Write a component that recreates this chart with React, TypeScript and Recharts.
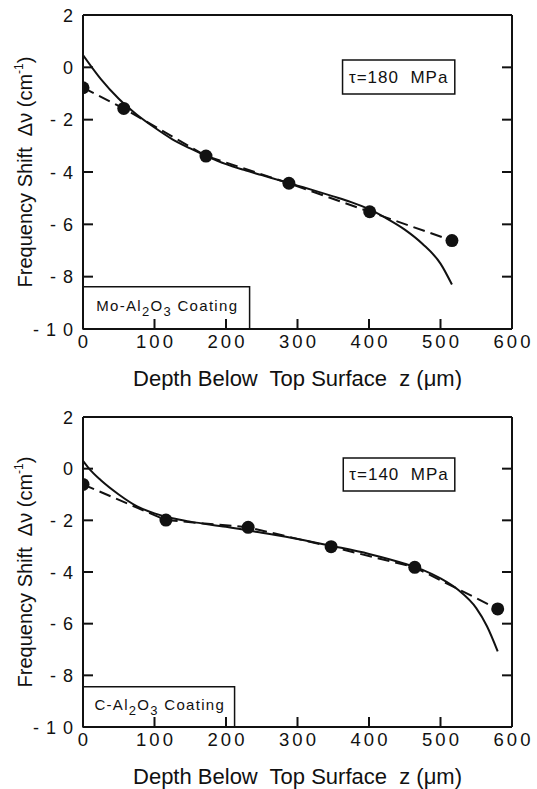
import React from "react";
import { LineChart, Line, XAxis, YAxis, ReferenceArea } from "recharts";

const xTicks = [0, 100, 200, 300, 400, 500, 600];
const yTicks = [-10, -8, -6, -4, -2, 0, 2];
const xInnerTicks = [100, 200, 300, 400, 500];
const yInnerTicks = [-8, -6, -4, -2, 0];

// Mo-Al2O3 coating, tau = 180 MPa
const moDepth = [0, 57, 172, 288, 401, 516];
const moShift = [-0.78, -1.57, -3.39, -4.43, -5.52, -6.62];
const moFitDepth = [0, 25, 50, 75, 100, 125, 150, 175, 200, 225, 250, 275, 300, 325, 350, 375, 400, 425, 450, 475, 500, 516];
const moFitShift = [0.47, -0.45, -1.2, -1.8, -2.3, -2.75, -3.1, -3.42, -3.7, -3.92, -4.12, -4.32, -4.52, -4.72, -4.93, -5.15, -5.42, -5.78, -6.2, -6.75, -7.5, -8.3];

// C-Al2O3 coating, tau = 140 MPa
const cDepth = [0, 116, 231, 347, 464, 580];
const cShift = [-0.61, -1.99, -2.27, -3.02, -3.82, -5.43];
const cFitDepth = [0, 10, 25, 50, 75, 100, 125, 150, 200, 250, 300, 350, 400, 450, 475, 500, 525, 550, 565, 580];
const cFitShift = [0.3, -0.05, -0.45, -1.0, -1.45, -1.73, -1.92, -2.05, -2.25, -2.48, -2.72, -3.0, -3.3, -3.68, -3.92, -4.25, -4.7, -5.4, -6.1, -7.07];

const INK = "#111";
const FONT = "'Liberation Sans', Arial, Helvetica, sans-serif";
const TICK = 10;

const toPts = (xs: number[], ys: number[]) => xs.map((x, i) => ({ x, y: ys[i] }));

const fmtY = (v: number) => (v < 0 ? "- " + String(-v).split("").join(" ") : String(v));

const BottomTick = (props: any) => {
  const { x, y, payload } = props;
  const v = payload.value;
  return (
    <g>
      {v > 0 && v < 600 && <line x1={x} y1={y} x2={x} y2={y - TICK} stroke={INK} strokeWidth={2} />}
      <text x={x + 1.5} y={y + 19} textAnchor="middle" fontSize={18.5} letterSpacing={3} fontFamily={FONT} fill={INK}>
        {v}
      </text>
    </g>
  );
};

const LeftTick = (props: any) => {
  const { x, y, payload } = props;
  const v = payload.value;
  return (
    <g>
      {v > -10 && v < 2 && <line x1={x} y1={y} x2={x + TICK} y2={y} stroke={INK} strokeWidth={2} />}
      <text x={x - 9} y={y + 6.5} textAnchor="end" fontSize={18} letterSpacing={1} fontFamily={FONT} fill={INK} style={{ whiteSpace: "pre" }}>
        {fmtY(v)}
      </text>
    </g>
  );
};

const TopTick = (props: any) => {
  const { x, y } = props;
  return <line x1={x} y1={y} x2={x} y2={y + TICK} stroke={INK} strokeWidth={2} />;
};

const RightTick = (props: any) => {
  const { x, y } = props;
  return <line x1={x} y1={y} x2={x - TICK} y2={y} stroke={INK} strokeWidth={2} />;
};

const XTitle = (props: any) => {
  const vb = props.viewBox || {};
  return (
    <text x={vb.x + vb.width / 2} y={vb.y + 57} textAnchor="middle" fontSize={22} fontFamily={FONT} fill={INK} style={{ whiteSpace: "pre" }}>
      {"Depth Below  Top Surface  z (\u03bcm)"}
    </text>
  );
};

const YTitle = (props: any) => {
  const vb = props.viewBox || {};
  const cx = vb.x + vb.width - 51;
  const cy = vb.y + vb.height / 2;
  return (
    <text x={cx} y={cy} textAnchor="middle" fontSize={20} fontFamily={FONT} fill={INK} transform={`rotate(-90, ${cx}, ${cy})`} style={{ whiteSpace: "pre" }}>
      {"Frequency Shift  \u0394\u03bd (cm"}
      <tspan fontSize={12} dy={-9}>-1</tspan>
      <tspan dy={9}>)</tspan>
    </text>
  );
};

const TauText = (text: string) => (props: any) => {
  const vb = props.viewBox || {};
  return (
    <text x={vb.x + vb.width / 2} y={vb.y + vb.height / 2 + 6} textAnchor="middle" fontSize={17} letterSpacing={1} fontFamily={FONT} fill={INK} style={{ whiteSpace: "pre" }}>
      {text}
    </text>
  );
};

const CoatingText = (prefix: string) => (props: any) => {
  const vb = props.viewBox || {};
  return (
    <text x={vb.x + vb.width / 2 + 1} y={vb.y + vb.height / 2 + 3} textAnchor="middle" fontSize={15} letterSpacing={1.3} fontFamily={FONT} fill={INK}>
      {prefix + "-Al"}
      <tspan fontSize={13} dy={5}>2</tspan>
      <tspan dy={-5}>O</tspan>
      <tspan fontSize={13} dy={5}>3</tspan>
      <tspan dy={-5}>{" Coating"}</tspan>
    </text>
  );
};

interface PanelProps {
  height: number;
  top: number;
  bottom: number;
  points: { x: number; y: number }[];
  fit: { x: number; y: number }[];
  tau: string;
  tauBox: number[];
  coating: string;
  coatingBox: number[];
}

function Panel({ height, top, bottom, points, fit, tau, tauBox, coating, coatingBox }: PanelProps) {
  return (
    <LineChart width={537} height={height} margin={{ top: top - 1, right: 24, bottom: bottom - 1, left: 82 }}>
      <XAxis
        dataKey="x"
        type="number"
        domain={[0, 600]}
        ticks={xTicks}
        allowDataOverflow
        height={1}
        tickSize={0}
        tickMargin={0}
        tickLine={false}
        axisLine={{ stroke: INK, strokeWidth: 2 }}
        tick={<BottomTick />}
        interval={0}
        label={XTitle}
      />
      <XAxis
        xAxisId="top"
        orientation="top"
        type="number"
        domain={[0, 600]}
        ticks={xInnerTicks}
        allowDataOverflow
        height={1}
        tickSize={0}
        tickMargin={0}
        tickLine={false}
        axisLine={{ stroke: INK, strokeWidth: 2 }}
        tick={<TopTick />}
        interval={0}
      />
      <YAxis
        type="number"
        domain={[-10, 2]}
        ticks={yTicks}
        allowDataOverflow
        width={1}
        tickSize={0}
        tickMargin={0}
        tickLine={false}
        axisLine={{ stroke: INK, strokeWidth: 2 }}
        tick={<LeftTick />}
        interval={0}
        label={YTitle}
      />
      <YAxis
        yAxisId="right"
        orientation="right"
        type="number"
        domain={[-10, 2]}
        ticks={yInnerTicks}
        allowDataOverflow
        width={1}
        tickSize={0}
        tickMargin={0}
        tickLine={false}
        axisLine={{ stroke: INK, strokeWidth: 2 }}
        tick={<RightTick />}
        interval={0}
      />
      <ReferenceArea
        x1={tauBox[0]} x2={tauBox[1]} y1={tauBox[2]} y2={tauBox[3]}
        fill="#fff" fillOpacity={1} stroke={INK} strokeWidth={1.5}
        label={TauText(tau)}
      />
      <ReferenceArea
        x1={coatingBox[0]} x2={coatingBox[1]} y1={coatingBox[2]} y2={coatingBox[3]}
        fill="#fff" fillOpacity={1} stroke={INK} strokeWidth={1.5}
        label={CoatingText(coating)}
      />
      <Line
        data={fit}
        dataKey="y"
        type="monotone"
        stroke={INK}
        strokeWidth={2}
        dot={false}
        isAnimationActive={false}
      />
      <Line
        data={points}
        dataKey="y"
        type="linear"
        stroke={INK}
        strokeWidth={2}
        strokeDasharray="12 6"
        dot={{ r: 6.5, fill: INK, stroke: "none", strokeDasharray: "0" }}
        isAnimationActive={false}
      />
    </LineChart>
  );
}

export default function App() {
  return (
    <div style={{ position: "absolute", left: 0, top: 0, width: 537, height: 789, background: "#fff" }}>
      <div style={{ position: "absolute", left: 0, top: 0 }}>
        <Panel
          height={390}
          top={15}
          bottom={61}
          points={toPts(moDepth, moShift)}
          fit={toPts(moFitDepth, moFitShift)}
          tau={"\u03c4=180  MPa"}
          tauBox={[363, 520, 0.28, -1.02]}
          coating="Mo"
          coatingBox={[0, 233, -8.39, -10]}
        />
      </div>
      <div style={{ position: "absolute", left: 0, top: 390 }}>
        <Panel
          height={399}
          top={27}
          bottom={62}
          points={toPts(cDepth, cShift)}
          fit={toPts(cFitDepth, cFitShift)}
          tau={"\u03c4=140  MPa"}
          tauBox={[364, 520, 0.41, -0.86]}
          coating="C"
          coatingBox={[0, 212, -8.44, -10]}
        />
      </div>
    </div>
  );
}
